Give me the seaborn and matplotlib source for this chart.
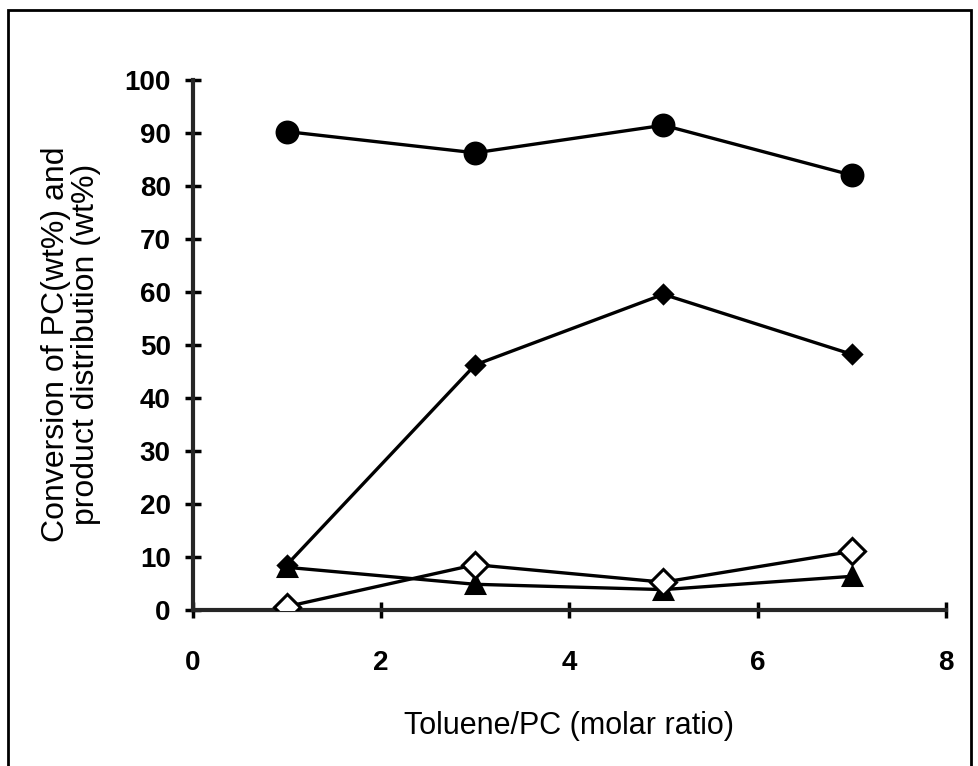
"""
Conversion of PC and product distribution vs toluene/PC ratio
"""

from matplotlib import pyplot as plt
from matplotlib.patches import Rectangle
import pandas as pd
import seaborn as sns

ratio = [1, 3, 5, 7]
conversion = [90.2, 86.2, 91.4, 82.0]
product_a = [8.5, 46.2, 59.5, 48.2]
product_b = [8.0, 4.8, 3.8, 6.3]
product_c = [0.6, 8.5, 5.2, 11.0]

series = {
    "conversion": (conversion, "o", 15, "black"),
    "product_a": (product_a, "D", 9, "black"),
    "product_b": (product_b, "^", 13, "black"),
    "product_c": (product_c, "D", 13, "white"),
}

sns.set_style("ticks")
plt.rcParams["font.family"] = ["Liberation Sans", "DejaVu Sans"]
plt.rcParams["text.color"] = "black"
plt.rcParams["axes.labelcolor"] = "black"
plt.rcParams["xtick.color"] = "black"
plt.rcParams["ytick.color"] = "black"

fig = plt.figure(figsize=(9.79, 7.66), dpi=100)
ax = fig.add_axes([0.197, 0.204, 0.769, 0.692])

for name, (vals, marker, size, face) in series.items():
    df = pd.DataFrame({"x": ratio, "y": vals})
    sns.lineplot(
        data=df, x="x", y="y", ax=ax,
        color="black", linewidth=2.4,
        marker=marker, markersize=size,
        markerfacecolor=face, markeredgecolor="black", markeredgewidth=2.2,
        zorder=3,
    )

ax.set_xlim(0, 8)
ax.set_ylim(0, 100)
ax.set_xticks(range(0, 9, 2))
ax.set_yticks(range(0, 101, 10))
ax.tick_params(direction="inout", length=12, width=2.5, labelsize=20)
ax.tick_params(axis="y", pad=10)
ax.tick_params(axis="x", pad=23)
for lbl in ax.get_xticklabels() + ax.get_yticklabels():
    lbl.set_fontweight("bold")
for side in ("top", "right"):
    ax.spines[side].set_visible(False)
for side in ("left", "bottom"):
    ax.spines[side].set_linewidth(3)
ax.set_xlabel("Toluene/PC (molar ratio)", fontsize=22, labelpad=25)
ax.set_ylabel("Conversion of PC(wt%) and\nproduct distribution (wt%)",
              fontsize=23, labelpad=17, linespacing=1.0)

# outer frame, open at the bottom edge of the picture
fig.patches.append(Rectangle((0.008, -0.05), 0.984, 1.037, transform=fig.transFigure,
                             fill=False, edgecolor="black", linewidth=2))

fig.savefig("out.png", dpi=100)
